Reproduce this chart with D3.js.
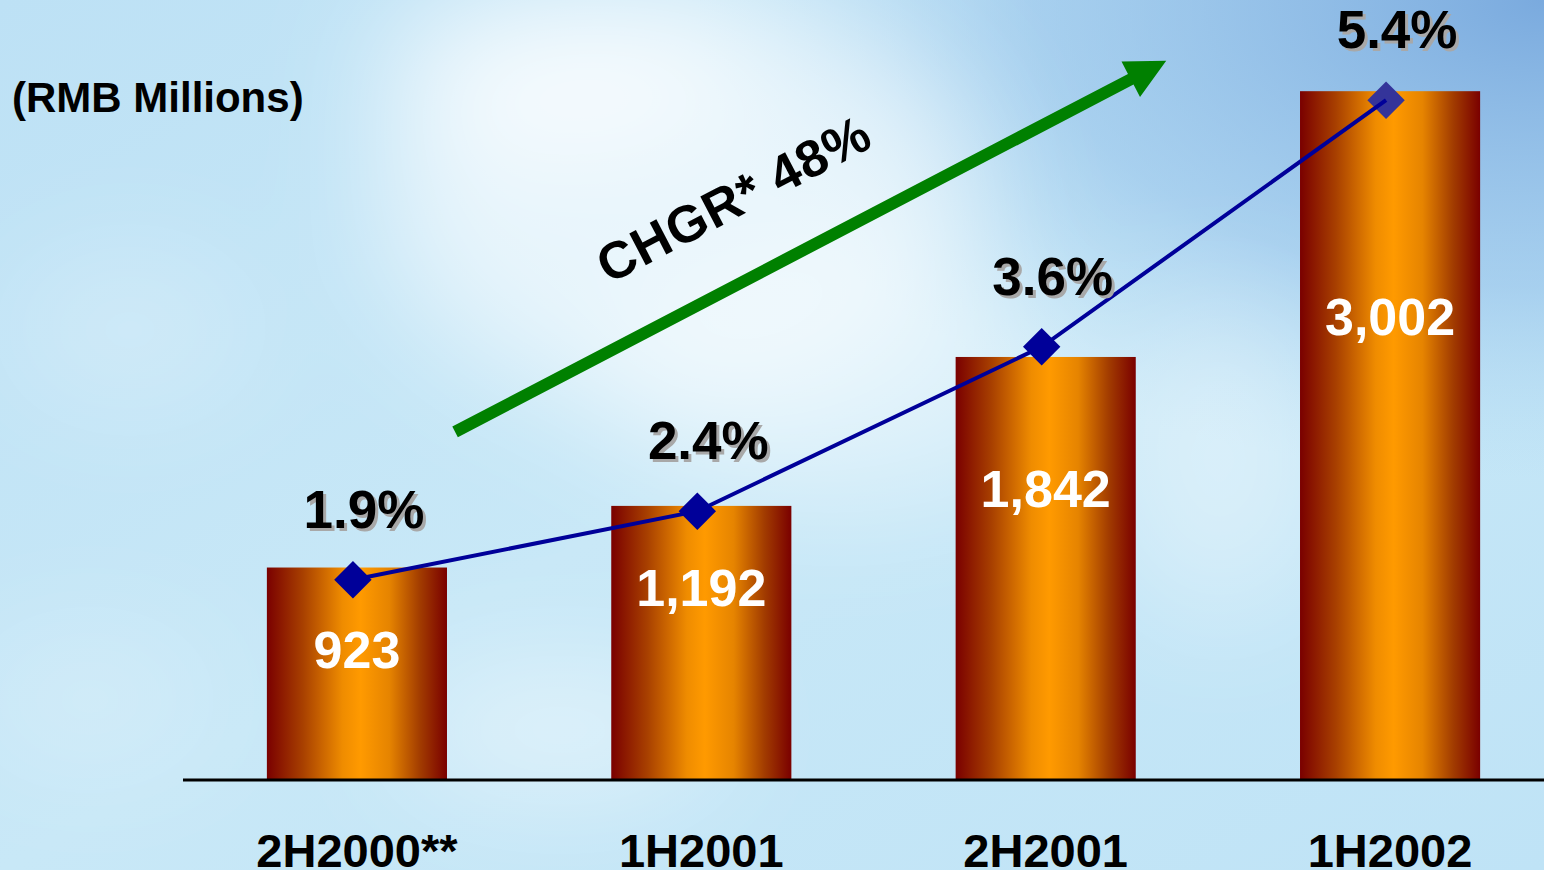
<!DOCTYPE html>
<html>
<head>
<meta charset="utf-8">
<script src="https://cdn.jsdelivr.net/npm/d3@7/dist/d3.min.js"></script>
<style>
  html, body { margin: 0; padding: 0; overflow: hidden; background: #bfe3f6; }
  svg { display: block; }
  text { font-family: "Liberation Sans", Arial, Helvetica, sans-serif; font-weight: bold; }
</style>
</head>
<body>
<svg id="chart" width="1544" height="870"></svg>
<script>
// Half-year periods
const categories = ["2H2000**", "1H2001", "2H2001", "1H2002"];
// Revenue, RMB millions
const revenue = [923, 1192, 1842, 3002];
// Share (%) plotted on the secondary axis
const share = [1.9, 2.4, 3.6, 5.4];
// Growth annotation
const growthLabel = "CHGR* 48%";
const unitLabel = "(RMB Millions)";

const W = 1544, H = 870;
const baseY = 779;

const svg = d3.select("#chart");
const defs = svg.append("defs");

// ---------- sky background ----------
const sky = defs.append("linearGradient").attr("id", "sky")
  .attr("x1", 0).attr("y1", 0).attr("x2", 1).attr("y2", 1);
sky.append("stop").attr("offset", 0).attr("stop-color", "#bde1f5");
sky.append("stop").attr("offset", 0.5).attr("stop-color", "#c8e8f7");
sky.append("stop").attr("offset", 1).attr("stop-color", "#bfe3f6");

const corner = defs.append("radialGradient").attr("id", "corner")
  .attr("cx", 1).attr("cy", 0).attr("r", 0.55);
corner.append("stop").attr("offset", 0).attr("stop-color", "#7aaade").attr("stop-opacity", 1);
corner.append("stop").attr("offset", 0.6).attr("stop-color", "#8ebde8").attr("stop-opacity", 0.55);
corner.append("stop").attr("offset", 1).attr("stop-color", "#a8d4f0").attr("stop-opacity", 0);

const soft = defs.append("filter").attr("id", "soft")
  .attr("x", "-50%").attr("y", "-50%").attr("width", "200%").attr("height", "200%");
soft.append("feGaussianBlur").attr("stdDeviation", 60);

svg.append("rect").attr("width", W).attr("height", H).attr("fill", "url(#sky)");
svg.append("rect").attr("width", W).attr("height", H).attr("fill", "url(#corner)");

const clouds = [
  { cx: 680, cy: 200, rx: 300, ry: 210, o: 0.6 },
  { cx: 560, cy: 70,  rx: 180, ry: 80,  o: 0.7 },
  { cx: 840, cy: 380, rx: 240, ry: 130, o: 0.4 },
  { cx: 560, cy: 730, rx: 160, ry: 60,  o: 0.5 },
  { cx: 130, cy: 330, rx: 120, ry: 70,  o: 0.25 },
  { cx: 1220, cy: 460, rx: 110, ry: 160, o: 0.35 },
  { cx: 90,  cy: 700, rx: 120, ry: 60,  o: 0.25 }
];
svg.append("g").attr("filter", "url(#soft)")
  .selectAll("ellipse").data(clouds).join("ellipse")
  .attr("cx", d => d.cx).attr("cy", d => d.cy)
  .attr("rx", d => d.rx).attr("ry", d => d.ry)
  .attr("fill", "#ffffff").attr("fill-opacity", d => d.o);

// ---------- scales ----------
const x = d3.scaleBand().domain(categories)
  .range([198, 1549]).paddingInner(0.477).paddingOuter(0.2);
const y = d3.scaleLinear().domain([0, 3400]).range([baseY, 0]);
const y2 = d3.scaleLinear().domain([0, 6]).range([840, 18]);
const cx = c => x(c) + x.bandwidth() / 2;

// ---------- bars ----------
const barGrad = defs.append("linearGradient").attr("id", "bar")
  .attr("x1", 0).attr("y1", 0).attr("x2", 1).attr("y2", 0);
[[0, "#7a0000"], [0.2, "#a84000"], [0.42, "#ef8c00"], [0.52, "#ff9a00"],
 [0.68, "#e68400"], [0.85, "#a23c00"], [1, "#7a0000"]]
  .forEach(([o, c]) => barGrad.append("stop").attr("offset", o).attr("stop-color", c));

const rows = categories.map((c, i) => ({ c, v: revenue[i], p: share[i] }));

svg.append("g").selectAll("rect").data(rows).join("rect")
  .attr("x", d => x(d.c)).attr("width", x.bandwidth())
  .attr("y", d => y(d.v)).attr("height", d => baseY - y(d.v))
  .attr("fill", "url(#bar)");

// category axis line
svg.append("line").attr("x1", 183).attr("x2", W)
  .attr("y1", baseY + 1).attr("y2", baseY + 1)
  .attr("stroke", "#000").attr("stroke-width", 3);

// value labels inside the bars
const fmtNum = d3.format(",");
svg.append("g").selectAll("text").data(rows).join("text")
  .attr("x", d => cx(d.c)).attr("text-anchor", "middle")
  .attr("y", d => {
    const h = baseY - y(d.v);
    return baseY - Math.min(0.645 * h, h - 100);
  })
  .attr("font-size", 52).attr("fill", "#ffffff")
  .text(d => fmtNum(d.v));

// ---------- share line with diamond markers ----------
const mx = d => cx(d.c) - 4;
svg.append("g").selectAll("path").data(rows).join("path")
  .attr("d", d3.symbol(d3.symbolSquare, 700))
  .attr("transform", d => `translate(${mx(d)},${y2(d.p)}) rotate(45)`)
  .attr("fill", (d, i) => i === rows.length - 1 ? "#34349a" : "#000099");
svg.append("path").datum(rows)
  .attr("d", d3.line().x(mx).y(d => y2(d.p)))
  .attr("fill", "none").attr("stroke", "#000099").attr("stroke-width", 4);

// share labels with soft grey drop shadow
const fmtPct = d => d3.format(".1f")(d) + "%";
const pctG = svg.append("g");
pctG.selectAll("text.shadow").data(rows).join("text").attr("class", "shadow")
  .attr("x", d => cx(d.c) + 7 + 3).attr("y", d => y2(d.p) - 52 + 3)
  .attr("text-anchor", "middle").attr("font-size", 53).attr("fill", "#a8a8a8")
  .text(d => fmtPct(d.p));
pctG.selectAll("text.lab").data(rows).join("text").attr("class", "lab")
  .attr("x", d => cx(d.c) + 7).attr("y", d => y2(d.p) - 52)
  .attr("text-anchor", "middle").attr("font-size", 53).attr("fill", "#000")
  .text(d => fmtPct(d.p));

// category labels
svg.append("g").selectAll("text").data(categories).join("text")
  .attr("x", d => cx(d)).attr("y", 867).attr("text-anchor", "middle")
  .attr("font-size", 47).attr("fill", "#000")
  .text(d => d);

// unit label
svg.append("text").attr("x", 12).attr("y", 112)
  .attr("font-size", 42).attr("fill", "#000").text(unitLabel);

// ---------- growth arrow ----------
const step = x.step();
const a0 = [cx(categories[0]) + 0.285 * step, y(1515)];
const a1 = [cx(categories[3]) - 0.65 * step, y(3135)];
const dx = a1[0] - a0[0], dy = a1[1] - a0[1];
const len = Math.hypot(dx, dy);
const ux = dx / len, uy = dy / len, nx = -uy, ny = ux;
const headLen = 40, headHalf = 20, shaftHalf = 6;
const hb = [a1[0] - ux * headLen, a1[1] - uy * headLen];
const arrowPts = [
  [a0[0] + nx * shaftHalf, a0[1] + ny * shaftHalf],
  [hb[0] + nx * shaftHalf, hb[1] + ny * shaftHalf],
  [hb[0] + nx * headHalf, hb[1] + ny * headHalf],
  a1,
  [hb[0] - nx * headHalf, hb[1] - ny * headHalf],
  [hb[0] - nx * shaftHalf, hb[1] - ny * shaftHalf],
  [a0[0] - nx * shaftHalf, a0[1] - ny * shaftHalf]
];
svg.append("path").attr("d", d3.line()(arrowPts) + "Z").attr("fill", "#008000");

const angle = Math.atan2(dy, dx) * 180 / Math.PI;
svg.append("text")
  .attr("transform", `translate(742,215) rotate(${angle})`)
  .attr("text-anchor", "middle").attr("font-size", 52).attr("fill", "#000")
  .attr("letter-spacing", 1)
  .text(growthLabel);
</script>
</body>
</html>
